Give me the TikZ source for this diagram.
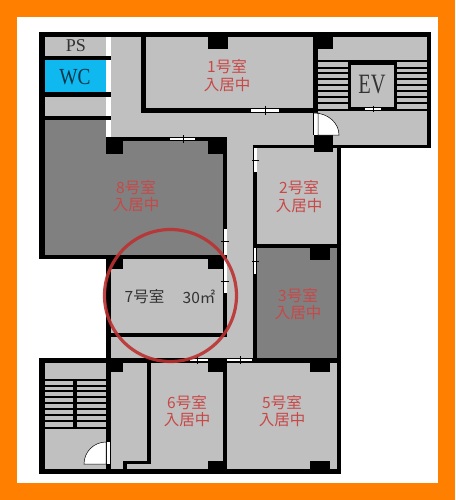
\documentclass[tikz,border=0pt]{standalone}
\usepackage{fontspec}
\setmainfont{Liberation Serif}
\newfontfamily\jpfont{Noto Sans CJK JP}
\definecolor{frameorange}{HTML}{FF8000}
\definecolor{floorgray}{HTML}{C0C0C0}
\definecolor{darkroom}{HTML}{808080}
\definecolor{wcblue}{HTML}{10B8F0}
\definecolor{roomred}{HTML}{C84848}
\definecolor{ringred}{HTML}{BC3232}
\begin{document}
\begin{tikzpicture}[x=1pt,y=-1pt]

    \tikzset{
      wall/.style={fill=black},
      opening/.style={fill=white},
      tick/.style={black,line width=0.6pt},
      tread/.style={black,line width=1.1pt},
      doorleaf/.style={fill=white,draw=black,line width=0.5pt},
      roomlabel/.style={text=roomred,font=\jpfont\fontsize{15.5}{17.5}\selectfont,align=center,inner sep=0pt},
      planlabel/.style={text=black!80,inner sep=0pt,transform shape},
    }
    \useasboundingbox (0,0) rectangle (455,500);
    \fill[frameorange] (0,0) rectangle (455,500);
    \fill[white] (17,17) rectangle (438,483);

    % floors
    \fill[floorgray] (45,37) rectangle (427,145);
    \fill[floorgray] (111,37) rectangle (337,358);
    \fill[floorgray] (45,363) rectangle (337,469);
    \fill[darkroom] (45,120) rectangle (106,255);
    \fill[darkroom] (106,141) rectangle (223,255);
    \fill[darkroom] (257,248) rectangle (337,358);
    \fill[wcblue] (45,60) rectangle (106,92);
    \fill[white] (106,37) rectangle (111,137);
    \fill[white] (341,148) rectangle (427,358);

    % outer walls
    \fill[wall] (39,32) rectangle (431,37);
    \fill[wall] (39,32) rectangle (45,259);
    \fill[wall] (427,32) rectangle (431,148);
    \fill[wall] (333,145) rectangle (431,148);
    \fill[wall] (337,145) rectangle (341,474);
    \fill[wall] (39,358) rectangle (45,474);
    \fill[wall] (39,469) rectangle (341,474);

    % inner walls
    \fill[wall] (39,56) rectangle (111,60);
    \fill[wall] (39,92) rectangle (111,97);
    \fill[wall] (39,116) rectangle (111,120);
    \fill[wall] (106,137) rectangle (226,141);
    \fill[wall] (223,137) rectangle (227,337);
    \fill[wall] (39,255) rectangle (227,259);
    \fill[wall] (106,255) rectangle (111,474);
    \fill[wall] (106,333) rectangle (227,337);
    \fill[wall] (141,37) rectangle (146,113);
    \fill[wall] (141,108) rectangle (318,113);
    \fill[wall] (313,37) rectangle (318,135);
    \fill[wall] (253,145) rectangle (257,358);
    \fill[wall] (253,145) rectangle (341,148);
    \fill[wall] (254,244) rectangle (341,248);
    \fill[wall] (39,358) rectangle (341,363);
    \fill[wall] (147,358) rectangle (151,464);
    \fill[wall] (123,461) rectangle (151,464);
    \fill[wall] (123,461) rectangle (127,469);
    \fill[wall] (223,358) rectangle (227,469);

    % pillars
    \foreach \px/\py/\qx/\qy in {208/37/228/49, 313/37/333/49, 314/135/333/152,
      106/137/123/154, 208/137/226/154, 106/259/123/269, 208/259/226/269,
      310/248/330/260, 106/358/123/372, 208/358/227/372, 310/363/330/372,
      208/461/226/469, 310/461/330/469}
      \fill[wall] (\px,\py) rectangle (\qx,\qy);

    % openings
    \fill[opening] (170,137.5) rectangle (195,140);
    \draw[tick] (183,135) -- (183,143);
    \fill[opening] (251,109) rectangle (279,112);
    \draw[tick] (265,106) -- (265,115);
    \fill[opening] (254,148) rectangle (257,172);
    \draw[tick] (252,160) -- (259,160);
    \fill[opening] (254,248) rectangle (256,274);
    \draw[tick] (252,261) -- (259,261);
    \fill[opening] (224,229) rectangle (227,255);
    \draw[tick] (221,241) -- (229,241);
    \fill[opening] (224,259) rectangle (227,293);
    \draw[tick] (221,281) -- (229,281);
    \fill[opening] (190,359) rectangle (208,361);
    \draw[tick] (197,356) -- (197,364);
    \fill[opening] (227,359) rectangle (252,361);
    \draw[tick] (240,356) -- (240,364);

    % stairs
    \foreach \ty in {61,68,73,79,85,91,97,103,110}{
      \draw[tread] (318,\ty) -- (427,\ty);
    }
    \foreach \ty in {380,386,391,397,403,409,415,421,428}{
      \draw[tread] (45,\ty) -- (106,\ty);
    }
    \fill[wall] (73,380) rectangle (77,428);

    % elevator
    \fill[floorgray,draw=black,line width=3pt] (349.5,63.5) rectangle (395.5,108.5);
    \fill[opening] (365,108) rectangle (381,110);
    \draw[tick] (373,106) -- (373,112);

    % doors
    \fill[opening] (314,113) rectangle (318,135);
    \draw[doorleaf] (318,135) -- (318,113) -- (314,113) arc[start angle=270,end angle=360,x radius=25,y radius=22] -- cycle;
    \draw[doorleaf] (84,464) arc[start angle=180,end angle=270,radius=22] -- (106,464) -- cycle;
    \fill[opening] (106.5,442) rectangle (110,464);

    % labels
    \node[planlabel,font=\fontsize{18}{20}\selectfont] (ps) at (76,46) {PS};
    \node[planlabel,xscale=0.84,font=\fontsize{23}{25}\selectfont,text=black!70!wcblue] (wc) at (75,77) {WC};
    \node[planlabel,xscale=0.73,font=\fontsize{28}{30}\selectfont] (ev) at (372,85) {EV};
    \node[roomlabel] (room1) at (227,75.5) {1号室\\入居中};
    \node[roomlabel] (room2) at (299,196.5) {2号室\\入居中};
    \node[roomlabel] (room3) at (298,304) {3号室\\入居中};
    \node[roomlabel] (room5) at (282,411) {5号室\\入居中};
    \node[roomlabel] (room6) at (187,411) {6号室\\入居中};
    \node[roomlabel] (room8) at (136,196) {8号室\\入居中};
    \node[planlabel,font=\jpfont\fontsize{15.5}{17.5}\selectfont] (room7) at (144.5,297) {7号室};
    \node[planlabel,font=\jpfont\fontsize{15.5}{17.5}\selectfont] (area7) at (199,297) {30㎡};

    \draw[ringred,opacity=0.9,line width=3.2pt] (170.5,295.5) circle[radius=66];

\end{tikzpicture}
\end{document}
